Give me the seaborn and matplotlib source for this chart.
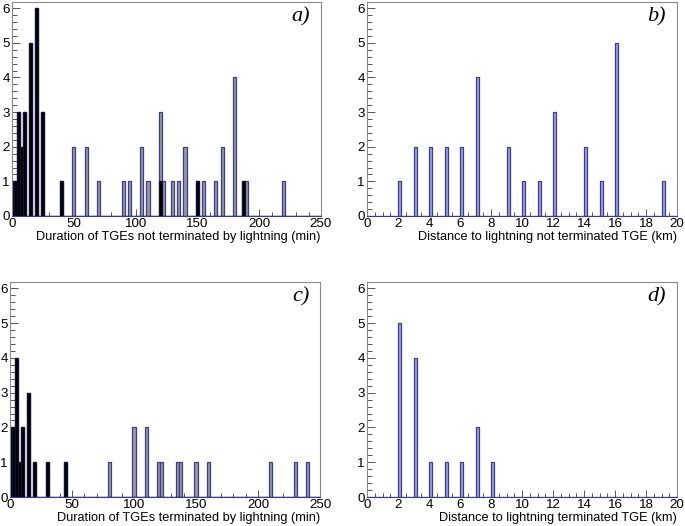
import numpy as np
import pandas as pd
import seaborn as sns
import matplotlib.pyplot as plt
from matplotlib.ticker import MultipleLocator

sns.set_style("white")
plt.rcParams["font.family"] = ["Liberation Sans", "DejaVu Sans"]
plt.rcParams["text.color"] = "black"
plt.rcParams["axes.labelcolor"] = "black"

# a) durations of TGEs not terminated by lightning (min) - all / black subset
dur_a_all = [0, 2.5, 5, 7.5, 10, 15, 20, 25, 40, 50, 60, 70, 90, 95, 105, 110,
             120, 122.5, 130, 135, 140, 150, 155, 165, 170, 180, 187.5, 190, 220]
cnt_a_all = [1, 1, 3, 2, 3, 5, 6, 3, 1, 2, 2, 1, 1, 1, 2, 1,
             3, 1, 1, 1, 2, 1, 1, 1, 2, 4, 1, 1, 1]
dur_a_blk = [0, 2.5, 5, 7.5, 10, 15, 20, 25, 40, 120, 150, 187.5]
cnt_a_blk = [1, 1, 3, 2, 3, 5, 6, 3, 1, 1, 1, 1]

# c) durations of TGEs terminated by lightning (min)
dur_c_all = [0, 2.5, 5, 7.5, 10, 15, 20, 30, 45, 80, 100, 110, 120, 122.5,
             135, 137.5, 150, 160, 210, 230, 240]
cnt_c_all = [2, 2, 4, 1, 2, 3, 1, 1, 1, 1, 2, 2, 1, 1,
             1, 1, 1, 1, 1, 1, 1]
dur_c_blk = [0, 2.5, 5, 7.5, 10, 15, 20, 30, 45]
cnt_c_blk = [2, 2, 4, 1, 2, 3, 1, 1, 1]

# b) / d) distance to lightning (km)
dist_b = [2, 3, 4, 5, 6, 7, 9, 10, 11, 12, 14, 15, 16, 19]
cnt_b = [1, 2, 2, 2, 2, 4, 2, 1, 1, 3, 2, 1, 5, 1]
dist_d = [2, 3, 4, 5, 6, 7, 8]
cnt_d = [5, 4, 1, 1, 1, 2, 1]

dur_edges = [k * 2.5 - 1.25 for k in range(102)]
dist_edges = [k / 5 for k in range(101)]

navy = "#3b3b8f"
grey = "#9a9a9a"
lav = "#a3a3dc"

W, H = 685, 526
fig = plt.figure(figsize=(W / 100, H / 100), dpi=100)


def make_ax(l, r, t, b):
    return fig.add_axes([l / W, 1 - b / H, (r - l) / W, (b - t) / H])


def style(ax, xmax, xmajor, xminor, xlabel, tag):
    ax.set_xlim(0, xmax)
    ax.set_ylim(0, 6.18)
    ax.set_axisbelow(True)
    ax.xaxis.set_major_locator(MultipleLocator(xmajor))
    ax.xaxis.set_minor_locator(MultipleLocator(xminor))
    ax.yaxis.set_major_locator(MultipleLocator(1))
    ax.yaxis.set_minor_locator(MultipleLocator(0.2))
    ax.tick_params(axis="both", which="both", direction="in", bottom=True,
                   left=True, top=False, right=False, color="#555555",
                   width=0.7, labelcolor="black")
    ax.tick_params(axis="both", which="major", labelsize=9.6, pad=1.5)
    ax.tick_params(axis="y", which="major", length=6)
    ax.tick_params(axis="y", which="minor", length=3.5)
    ax.tick_params(axis="x", which="major", length=5)
    ax.tick_params(axis="x", which="minor", length=3)
    for s in ax.spines.values():
        s.set_color("#8a8a8a")
        s.set_linewidth(0.8)
    ax.spines["bottom"].set_color(navy)
    ax.set_ylabel("")
    ax.set_xlabel(xlabel, loc="right", fontsize=9.2, labelpad=1)
    ax.text(0.965, 0.93, tag, transform=ax.transAxes, ha="right", va="center",
            fontsize=16, style="italic", family=["Liberation Serif", "DejaVu Serif"])


ax_a = make_ax(12, 321, 2, 216)
ax_b = make_ax(367, 677, 2, 216)
ax_c = make_ax(10, 320, 282, 497)
ax_d = make_ax(367, 677, 282, 497)

for ax, d_all, c_all, d_blk, c_blk in [
    (ax_a, dur_a_all, cnt_a_all, dur_a_blk, cnt_a_blk),
    (ax_c, dur_c_all, cnt_c_all, dur_c_blk, cnt_c_blk),
]:
    df_all = pd.DataFrame({"v": d_all, "n": c_all})
    df_blk = pd.DataFrame({"v": d_blk, "n": c_blk})
    sns.histplot(data=df_all, x="v", weights="n", bins=dur_edges, color=grey,
                 alpha=1, edgecolor=navy, linewidth=0.9, ax=ax)
    sns.histplot(data=df_blk, x="v", weights="n", bins=dur_edges, color="black",
                 alpha=1, edgecolor="#101030", linewidth=0.9, ax=ax)

for ax, d, c in [(ax_b, dist_b, cnt_b), (ax_d, dist_d, cnt_d)]:
    df = pd.DataFrame({"v": d, "n": c})
    sns.histplot(data=df, x="v", weights="n", bins=dist_edges, color=lav,
                 alpha=1, edgecolor=navy, linewidth=0.9, ax=ax)

style(ax_a, 250, 50, 10, "Duration of TGEs not terminated by lightning (min)", "a)")
style(ax_b, 20, 2, 0.5, "Distance to lightning not terminated TGE (km)", "b)")
style(ax_c, 250, 50, 10, "Duration of TGEs terminated by lightning (min)", "c)")
style(ax_d, 20, 2, 0.5, "Distance to lightning terminated TGE (km)", "d)")

fig.savefig("out.png", dpi=100)
